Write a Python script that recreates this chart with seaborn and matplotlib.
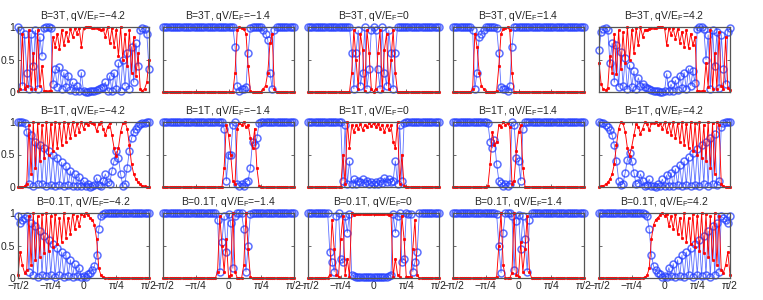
import numpy as np
import matplotlib
matplotlib.use('Agg')
import matplotlib.pyplot as plt
import seaborn as sns

# incidence angle grid
theta = np.linspace(-np.pi / 2, np.pi / 2, 61)

fields = ['3T', '1T', '0.1T']
biases = ['\u22124.2', '\u22121.4', '0', '1.4', '4.2']

# red = transmission, blue = reflection
t_3T_m42 = [0.02, 0.05, 0.9, 0.05, 0.1, 0.95, 0.05, 0.6, 0.05, 0.95,
            0.1, 0.4, 0.02, 0.01, 0.01, 0.02, 0.85, 0.7, 0.9, 0.66,
            0.95, 0.72, 0.92, 0.78, 0.97, 0.85, 0.98, 0.9, 0.99, 0.7,
            0.99, 1.0, 1.0, 1.0, 0.99, 0.99, 0.98, 0.97, 0.95, 0.97,
            0.85, 1.0, 0.75, 0.98, 0.7, 0.95, 0.55, 1.0, 0.5, 0.9,
            0.4, 0.95, 0.3, 0.85, 0.25, 0.6, 0.05, 0.02, 0.05, 0.15,
            0.5]
r_3T_m42 = [1.0, 0.95, 0.1, 0.9, 0.3, 0.05, 0.9, 0.4, 0.95, 0.05,
            0.85, 0.55, 0.98, 1.0, 1.0, 0.98, 0.12, 0.35, 0.08, 0.38,
            0.05, 0.3, 0.08, 0.25, 0.03, 0.15, 0.02, 0.1, 0.01, 0.3,
            0.01, 0.0, 0.0, 0.01, 0.01, 0.02, 0.03, 0.04, 0.06, 0.08,
            0.15, 0.02, 0.25, 0.02, 0.3, 0.05, 0.45, 0.02, 0.5, 0.1,
            0.6, 0.05, 0.7, 0.15, 0.75, 0.4, 0.95, 0.98, 0.97, 0.9,
            0.35]

t_3T_m14 = [0.0] * 33 + [0.3, 0.95, 1.0, 0.98, 0.97, 0.9, 0.4, 0.02, 0.0, 0.0,
                         0.0, 0.0, 0.0, 0.05, 0.1, 0.3, 0.75, 0.9, 0.05] + [0.0] * 9
r_3T_m14 = [1.0] * 33 + [0.7, 0.1, 0.02, 0.05, 0.04, 0.08, 0.6, 0.98, 1.0, 1.0,
                         1.0, 1.0, 1.0, 0.95, 0.9, 0.8, 0.3, 0.05, 0.95] + [1.0] * 9

t_3T_0 = [0.0] * 20 + [0.3, 0.95, 0.5, 0.05, 0.9, 0.65, 0.02, 0.95, 0.6, 0.05, 0.0,
                       0.05, 0.6, 0.95, 0.02, 0.65, 0.9, 0.05, 0.5, 0.95, 0.3] + [0.0] * 20
r_3T_0 = [1.0] * 20 + [0.6, 0.05, 0.6, 0.95, 0.1, 0.3, 1.0, 0.05, 0.35, 0.95, 1.0,
                       0.95, 0.35, 0.05, 1.0, 0.3, 0.1, 0.95, 0.6, 0.05, 0.6] + [1.0] * 20

t_3T_p14 = [0.0] * 9 + [0.05, 0.9, 0.7, 0.3, 0.1, 0.05, 0.0, 0.0, 0.0, 0.0,
                        0.0, 0.02, 0.4, 0.9, 0.97, 0.98, 1.0, 0.95, 0.3] + [0.0] * 33
r_3T_p14 = [1.0] * 9 + [0.95, 0.05, 0.3, 0.85, 0.9, 0.95, 1.0, 1.0, 1.0, 1.0,
                        1.0, 0.98, 0.6, 0.08, 0.04, 0.05, 0.02, 0.1, 0.7] + [1.0] * 33

t_3T_p42 = [0.45, 0.12, 0.04, 0.03, 0.06, 0.55, 0.3, 0.9, 0.28, 0.95,
            0.35, 0.92, 0.45, 1.0, 0.5, 0.96, 0.6, 0.98, 0.72, 1.0,
            0.85, 0.96, 0.95, 0.97, 0.98, 0.99, 0.99, 1.0, 1.0, 1.0,
            0.99, 0.72, 0.99, 0.88, 0.98, 0.82, 0.97, 0.76, 0.93, 0.7,
            0.95, 0.68, 0.9, 0.72, 0.84, 0.02, 0.01, 0.01, 0.02, 0.45,
            0.08, 0.95, 0.05, 0.6, 0.05, 0.92, 0.1, 0.05, 0.85, 0.06,
            0.03]
r_3T_p42 = [0.65, 0.92, 0.97, 0.98, 0.96, 0.45, 0.75, 0.15, 0.72, 0.08,
            0.62, 0.1, 0.52, 0.04, 0.42, 0.08, 0.32, 0.04, 0.22, 0.1,
            0.12, 0.08, 0.06, 0.05, 0.03, 0.02, 0.01, 0.01, 0.0, 0.0,
            0.01, 0.28, 0.01, 0.12, 0.02, 0.18, 0.03, 0.25, 0.06, 0.3,
            0.04, 0.36, 0.1, 0.32, 0.14, 0.97, 1.0, 1.0, 0.97, 0.5,
            0.88, 0.05, 0.95, 0.4, 0.92, 0.06, 0.88, 0.35, 0.12, 0.93,
            0.98]

t_1T_m42 = [0.0, 0.0, 0.0, 0.01, 0.05, 0.95, 0.2, 1.0, 0.3, 0.98,
            0.4, 0.96, 0.45, 1.0, 0.5, 0.97, 0.55, 1.0, 0.6, 0.98,
            0.65, 1.0, 0.7, 0.98, 0.75, 1.0, 0.8, 0.99, 0.85, 1.0,
            0.9, 0.98, 0.95, 1.0, 0.99, 0.97, 0.86, 0.97, 1.0, 0.9,
            0.8, 0.92, 0.98, 0.8, 0.6, 0.47, 0.6, 0.85, 0.98, 1.0,
            0.9, 0.65, 0.35, 0.2, 0.12, 0.07, 0.04, 0.02, 0.01, 0.0,
            0.0]
r_1T_m42 = [1.0, 1.0, 1.0, 0.98, 0.85, 0.05, 0.8, 0.02, 0.7, 0.05,
            0.65, 0.04, 0.6, 0.02, 0.55, 0.03, 0.5, 0.02, 0.45, 0.03,
            0.38, 0.02, 0.32, 0.03, 0.25, 0.01, 0.2, 0.02, 0.15, 0.01,
            0.1, 0.02, 0.05, 0.0, 0.01, 0.03, 0.14, 0.03, 0.01, 0.1,
            0.2, 0.08, 0.05, 0.25, 0.4, 0.55, 0.45, 0.2, 0.02, 0.05,
            0.3, 0.55, 0.75, 0.85, 0.9, 0.94, 0.97, 0.98, 0.99, 1.0,
            1.0]

t_1T_m14 = [0.0] * 28 + [0.3, 0.95, 0.8, 0.5, 0.1, 0.05, 0.9, 0.98, 0.95, 1.0,
                         0.92, 0.96, 0.75, 0.6, 0.9, 0.3, 0.02] + [0.0] * 16
r_1T_m14 = [1.0] * 28 + [0.9, 0.1, 0.5, 0.5, 0.95, 1.0, 0.05, 0.02, 0.05, 0.02,
                         0.08, 0.1, 0.3, 0.7, 0.65, 0.75, 0.98] + [1.0] * 16

t_1T_0 = [0.0] * 16 + [0.5, 0.05, 1.0, 0.6, 0.95, 0.85, 0.95, 0.9, 0.97, 0.88,
                       0.96, 0.92, 0.98, 0.94, 0.98, 0.93, 0.97, 0.9, 0.96, 0.85,
                       0.95, 0.88, 0.95, 0.7, 0.6, 1.0, 0.05, 0.5, 0.02] + [0.0] * 16
r_1T_0 = [1.0] * 16 + [0.1, 0.95, 0.05, 0.4, 0.05, 0.12, 0.05, 0.1, 0.08, 0.12,
                       0.06, 0.1, 0.04, 0.08, 0.05, 0.08, 0.04, 0.1, 0.06, 0.14,
                       0.07, 0.12, 0.08, 0.1, 0.4, 0.05, 0.95, 0.1, 0.98] + [1.0] * 16

t_1T_p14 = [0.0] * 16 + [0.02, 0.35, 0.85, 0.65, 0.7, 0.95, 0.93, 1.0, 0.96, 0.98,
                         0.92, 0.05, 0.1, 0.55, 0.85, 0.95, 0.3] + [0.0] * 28
r_1T_p14 = [1.0] * 16 + [0.98, 0.7, 0.6, 0.72, 0.35, 0.1, 0.06, 0.02, 0.04, 0.02,
                         0.05, 1.0, 0.95, 0.45, 0.4, 0.1, 0.9] + [1.0] * 28

t_1T_p42 = [0.0, 0.01, 0.02, 0.04, 0.07, 0.12, 0.2, 0.35, 0.65, 0.9,
            1.0, 0.98, 0.85, 0.6, 0.48, 0.62, 0.8, 0.97, 0.93, 0.82,
            0.9, 1.0, 0.97, 0.87, 0.98, 0.99, 1.0, 0.95, 0.98, 0.9,
            1.0, 0.85, 0.99, 0.8, 1.0, 0.75, 0.98, 0.7, 1.0, 0.65,
            0.97, 0.6, 1.0, 0.55, 0.98, 0.5, 1.0, 0.45, 0.96, 0.4,
            1.0, 0.3, 0.98, 0.2, 1.0, 0.95, 0.05, 0.01, 0.0, 0.0,
            0.0]
r_1T_p42 = [1.0, 0.99, 0.98, 0.96, 0.93, 0.88, 0.8, 0.65, 0.4, 0.1,
            0.03, 0.05, 0.22, 0.42, 0.52, 0.4, 0.22, 0.04, 0.06, 0.2,
            0.1, 0.01, 0.03, 0.12, 0.02, 0.01, 0.0, 0.04, 0.02, 0.12,
            0.01, 0.18, 0.02, 0.22, 0.01, 0.28, 0.03, 0.34, 0.02, 0.4,
            0.03, 0.46, 0.02, 0.52, 0.03, 0.58, 0.02, 0.64, 0.04, 0.7,
            0.02, 0.76, 0.04, 0.82, 0.03, 0.1, 0.92, 0.98, 1.0, 1.0,
            1.0]

t_01T_m42 = [0.05, 0.4, 0.2, 0.08, 0.12, 0.95, 0.2, 1.0, 0.28, 0.95,
             0.33, 0.98, 0.38, 1.0, 0.42, 0.95, 0.47, 0.99, 0.52, 0.92,
             0.56, 1.0, 0.62, 0.93, 0.68, 0.99, 0.75, 0.95, 0.8, 0.98,
             0.96, 1.0, 0.97, 0.93, 0.9, 0.82, 0.6, 0.15, 0.04, 0.01] + [0.0] * 21
r_01T_m42 = [0.95, 0.85, 0.9, 0.92, 0.95, 0.1, 0.85, 0.05, 0.8, 0.02,
             0.72, 0.05, 0.65, 0.03, 0.58, 0.05, 0.52, 0.02, 0.46, 0.04,
             0.4, 0.02, 0.35, 0.03, 0.28, 0.02, 0.22, 0.03, 0.16, 0.02,
             0.03, 0.02, 0.06, 0.08, 0.12, 0.18, 0.35, 0.75, 0.95, 0.99] + [1.0] * 21

t_01T_m14 = [0.0] * 25 + [0.1, 0.95, 0.5, 0.1, 0.6, 0.02, 0.05, 1.0, 0.1, 0.0,
                          0.0, 0.0, 0.2, 1.0, 0.45, 0.02] + [0.0] * 20
r_01T_m14 = [1.0] * 25 + [0.9, 0.1, 0.55, 0.95, 0.4, 0.98, 0.85, 0.15, 0.95, 1.0,
                          1.0, 1.0, 0.75, 0.1, 0.5, 0.98] + [1.0] * 20

t_01T_0 = [0.0] * 10 + [0.05, 0.9, 0.45, 0.05, 0.02, 0.6, 0.95, 0.05, 0.3, 0.02,
                        1.0, 0.97, 0.98, 0.99, 0.98, 0.99, 0.99, 0.98, 0.99, 0.99,
                        0.98, 0.99, 0.98, 0.99, 0.99, 0.98, 0.99, 0.97, 0.98, 0.02,
                        0.3, 0.05, 0.02, 0.95, 0.6, 0.02, 0.02, 0.02, 0.45, 0.9,
                        0.05] + [0.0] * 10
r_01T_0 = [1.0] * 10 + [0.4, 0.25, 0.1, 0.95, 1.0, 0.3, 0.25, 0.95, 0.7, 0.98,
                        0.05, 0.03, 0.02, 0.02, 0.01, 0.02, 0.01, 0.02, 0.01, 0.01,
                        0.02, 0.01, 0.02, 0.01, 0.01, 0.02, 0.01, 0.03, 0.05, 0.98,
                        0.7, 0.95, 1.0, 0.25, 0.3, 1.0, 0.98, 0.98, 0.1, 0.25,
                        0.4] + [1.0] * 10

t_01T_p14 = [0.0] * 20 + [0.02, 0.5, 1.0, 0.2, 0.0, 0.0, 0.0, 0.08, 1.0, 0.05,
                          0.02, 0.55, 0.1, 0.45, 0.95, 0.1] + [0.0] * 25
r_01T_p14 = [1.0] * 20 + [0.98, 0.5, 0.08, 0.7, 1.0, 1.0, 1.0, 0.95, 0.12, 0.88,
                          0.97, 0.45, 0.95, 0.6, 0.1, 0.9] + [1.0] * 25

t_01T_p42 = [0.0] * 21 + [0.01, 0.04, 0.15, 0.6, 0.82, 0.9, 0.93, 0.97, 1.0, 0.96,
                          0.98, 0.8, 0.95, 0.75, 0.99, 0.68, 0.93, 0.62, 1.0, 0.56,
                          0.92, 0.52, 0.99, 0.47, 0.95, 0.42, 1.0, 0.38, 0.98, 0.33,
                          0.95, 0.28, 1.0, 0.2, 0.95, 0.12, 0.08, 0.2, 0.4, 0.05]
r_01T_p42 = [1.0] * 21 + [0.99, 0.95, 0.75, 0.35, 0.18, 0.12, 0.08, 0.06, 0.02, 0.03,
                          0.02, 0.16, 0.03, 0.22, 0.02, 0.28, 0.03, 0.35, 0.02, 0.4,
                          0.04, 0.46, 0.02, 0.52, 0.05, 0.58, 0.03, 0.65, 0.05, 0.72,
                          0.02, 0.8, 0.05, 0.85, 0.1, 0.95, 0.92, 0.9, 0.85, 0.95]

trans = [[t_3T_m42, t_3T_m14, t_3T_0, t_3T_p14, t_3T_p42],
         [t_1T_m42, t_1T_m14, t_1T_0, t_1T_p14, t_1T_p42],
         [t_01T_m42, t_01T_m14, t_01T_0, t_01T_p14, t_01T_p42]]
refl = [[r_3T_m42, r_3T_m14, r_3T_0, r_3T_p14, r_3T_p42],
        [r_1T_m42, r_1T_m14, r_1T_0, r_1T_p14, r_1T_p42],
        [r_01T_m42, r_01T_m14, r_01T_0, r_01T_p14, r_01T_p42]]

sns.set_style('white')
plt.rcParams['font.family'] = ['Liberation Sans', 'DejaVu Sans']
plt.rcParams['mathtext.default'] = 'regular'

fig = plt.figure(figsize=(7.63, 3.0), dpi=100)
W, H = 763.0, 300.0
col_left = [18, 163, 308, 453, 599]
row_bottom = [92, 187, 278]
blue = (0.15, 0.25, 1.0)

for r in range(3):
    for c in range(5):
        ax = fig.add_axes([col_left[c] / W, (H - row_bottom[r]) / H, 131 / W, 65 / H])
        # blue circles first, red dots on top
        sns.lineplot(x=theta, y=refl[r][c], ax=ax, color=blue, lw=0.6, alpha=0.75,
                     marker='o', markersize=5, mfc='none', mec=blue, mew=1.1,
                     clip_on=False)
        sns.lineplot(x=theta, y=trans[r][c], ax=ax, color='red', lw=0.65,
                     marker='.', markersize=3.5, mec='red', mew=0.5, clip_on=False)
        ax.set_xlim(-np.pi / 2, np.pi / 2)
        ax.set_ylim(0, 1)
        ax.set_xlabel('')
        ax.set_ylabel('')
        ax.set_title('B=%s, qV/E$_F$=%s' % (fields[r], biases[c]), fontsize=7.5, pad=6)
        ax.set_xticks([-np.pi / 2, -np.pi / 4, 0, np.pi / 4, np.pi / 2])
        ax.set_xticklabels(['\u2212\u03c0/2', '\u2212\u03c0/4', '0', '\u03c0/4', '\u03c0/2'])
        ax.set_yticks([0, 0.5, 1])
        ax.set_yticklabels(['0', '0.5', '1'])
        ax.tick_params(direction='in', length=2.5, width=0.6, color='#555555',
                       bottom=True, left=True, top=True, right=True,
                       labelsize=7.5, pad=2,
                       labelleft=(c == 0), labelbottom=(r == 2))
        for s in ax.spines.values():
            s.set_color('#555555')
            s.set_linewidth(0.9)

fig.savefig('out.png', dpi=100)
